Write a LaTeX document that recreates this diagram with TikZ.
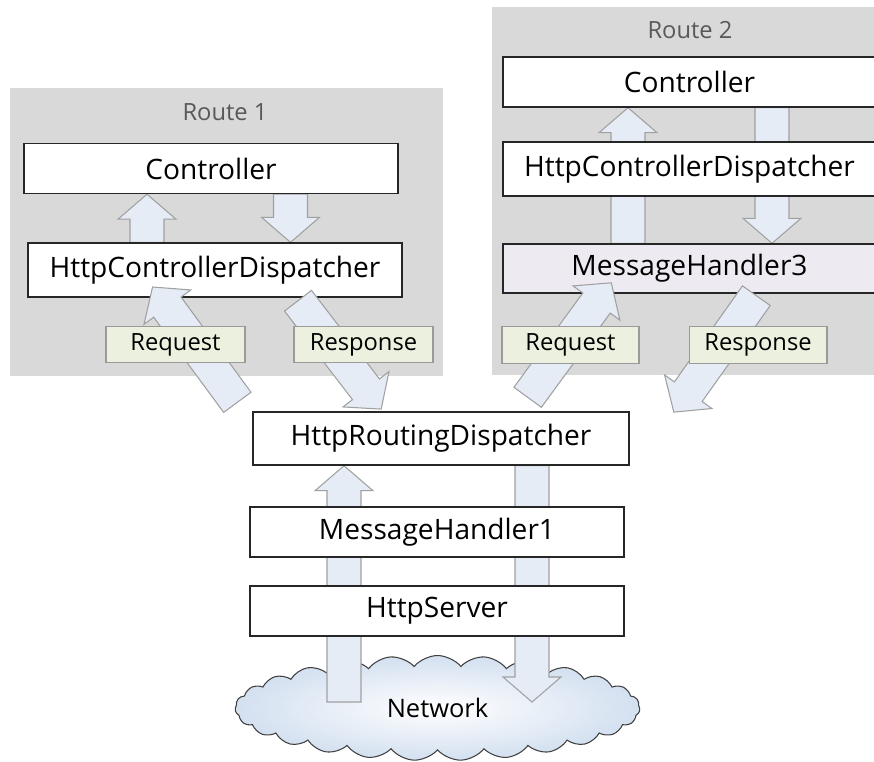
\documentclass[tikz,border=0pt]{standalone}
\usepackage{fontspec}
\setmainfont{Open Sans}
\usetikzlibrary{calc,shapes.symbols}

\definecolor{routegray}{HTML}{D9D9D9}
\definecolor{tagfill}{HTML}{EBF1DE}
\definecolor{tagline}{HTML}{9A9A9A}
\definecolor{handlerfill}{HTML}{EEEAF2}
\definecolor{arrowfill}{HTML}{E6ECF5}
\definecolor{arrowline}{HTML}{A0A0A0}
\definecolor{cloudblue}{HTML}{D3E0F0}
\definecolor{boxline}{HTML}{262626}

\pgfdeclarelayer{back}
\pgfdeclarelayer{mid}
\pgfsetlayers{back,mid,main}

% wide hollow arrow from #1 to #2
\newcommand{\blockarrow}[2]{%
  \path[flow] let \p1=($(#2)-(#1)$), \n1={atan2(\y1,\x1)}, \n2={veclen(\x1,\y1)} in
    [shift={(#1)}, rotate=\n1]
    (0pt,-0.34cm) -- ({\n2-0.5cm},-0.34cm) -- ({\n2-0.5cm},-0.58cm) -- (\n2,0pt)
    -- ({\n2-0.5cm},0.58cm) -- ({\n2-0.5cm},0.34cm) -- (0pt,0.34cm) -- cycle;}

\begin{document}
\begin{tikzpicture}[x=0.02cm, y=-0.02cm,
    box/.style={draw=boxline, line width=0.8pt, fill=white, minimum width=7.48cm,
      minimum height=1cm, inner sep=0pt, font=\fontsize{16}{19}\selectfont},
    tag/.style={draw=tagline, line width=0.6pt, fill=tagfill, minimum width=2.78cm,
      minimum height=0.73cm, inner sep=0pt, font=\fontsize{13.5}{16}\selectfont},
    route/.style={fill=routegray, inner sep=0pt},
    routename/.style={text=black!65, font=\fontsize{13.5}{16}\selectfont},
    flow/.style={draw=arrowline, fill=arrowfill, line width=0.6pt}]
  \useasboundingbox (0,0) rectangle (874,761);

  \begin{pgfonlayer}{back}
    \node[route, minimum width=8.66cm, minimum height=5.76cm] (routeA) at (226.5,232) {};
    \node[route, minimum width=7.64cm, minimum height=7.36cm] (routeB) at (683,191) {};
    \node[cloud, cloud puffs=27, cloud puff arc=100, cloud ignores aspect, draw=black!75,
      line width=0.6pt, inner color=white, outer color=cloudblue, minimum width=8.1cm,
      minimum height=2.1cm, font=\fontsize{14.5}{17}\selectfont] (net) at (437.5,708) {Network};
  \end{pgfonlayer}
  \node[routename] (routeAname) at (225,112) {Route 1};
  \node[routename] (routeBname) at (690,30) {Route 2};

  % route 1
  \node[box] (ctrlA) at (211,168.5) {Controller};
  \node[box, minimum height=1.08cm] (hcdA) at (215,270) {HttpControllerDispatcher};
  % route 2
  \node[box, minimum width=7.46cm] (ctrlB) at (689.5,82) {Controller};
  \node[box, minimum width=7.46cm, minimum height=1.08cm] (hcdB) at (689.5,169) {HttpControllerDispatcher};
  \node[box, minimum width=7.46cm, minimum height=0.98cm, fill=handlerfill] (mhC) at (689.5,268.5) {MessageHandler3};
  % shared pipeline
  \node[box, minimum width=7.52cm, minimum height=1.06cm] (hrd) at (441,438.5) {HttpRoutingDispatcher};
  \node[box] (mhA) at (437,532) {MessageHandler1};
  \node[box] (server) at (437,611) {HttpServer};

  \coordinate (inNet) at (344,702);
  \coordinate (outNet) at (532,702);
  \begin{pgfonlayer}{mid}
    \blockarrow{hcdA.north -| 147,0}{ctrlA.south -| 147,0}
    \blockarrow{ctrlA.south -| 290.5,0}{hcdA.north -| 290.5,0}
    \blockarrow{mhC.north -| 628,0}{ctrlB.south -| 628,0}
    \blockarrow{ctrlB.south -| 772,0}{mhC.north -| 772,0}
    \blockarrow{inNet}{hrd.south -| inNet}
    \blockarrow{hrd.south -| outNet}{outNet}
  \end{pgfonlayer}

  \coordinate (reqAfrom) at ([shift={(-15,-9)}]hrd.north west);
  \coordinate (reqAto) at ([shift={(125,-11)}]hcdA.south west);
  \coordinate (resAfrom) at ([shift={(83,3)}]hcdA.south);
  \coordinate (resAto) at ([shift={(129,-2)}]hrd.north west);
  \coordinate (reqBfrom) at ([shift={(-102,-14)}]hrd.north east);
  \coordinate (reqBto) at ([shift={(109,-11)}]mhC.south west);
  \coordinate (resBfrom) at ([shift={(254,2)}]mhC.south west);
  \coordinate (resBto) at ([shift={(44,1)}]hrd.north east);
  \blockarrow{reqAfrom}{reqAto}
  \blockarrow{resAfrom}{resAto}
  \blockarrow{reqBfrom}{reqBto}
  \blockarrow{resBfrom}{resBto}

  \node[tag] (reqA) at (175.5,344.5) {Request};
  \node[tag] (resA) at (363.5,344.5) {Response};
  \node[tag, minimum width=2.74cm] (reqB) at (570.5,345) {Request};
  \node[tag, minimum width=2.76cm] (resB) at (758,345) {Response};
\end{tikzpicture}
\end{document}
